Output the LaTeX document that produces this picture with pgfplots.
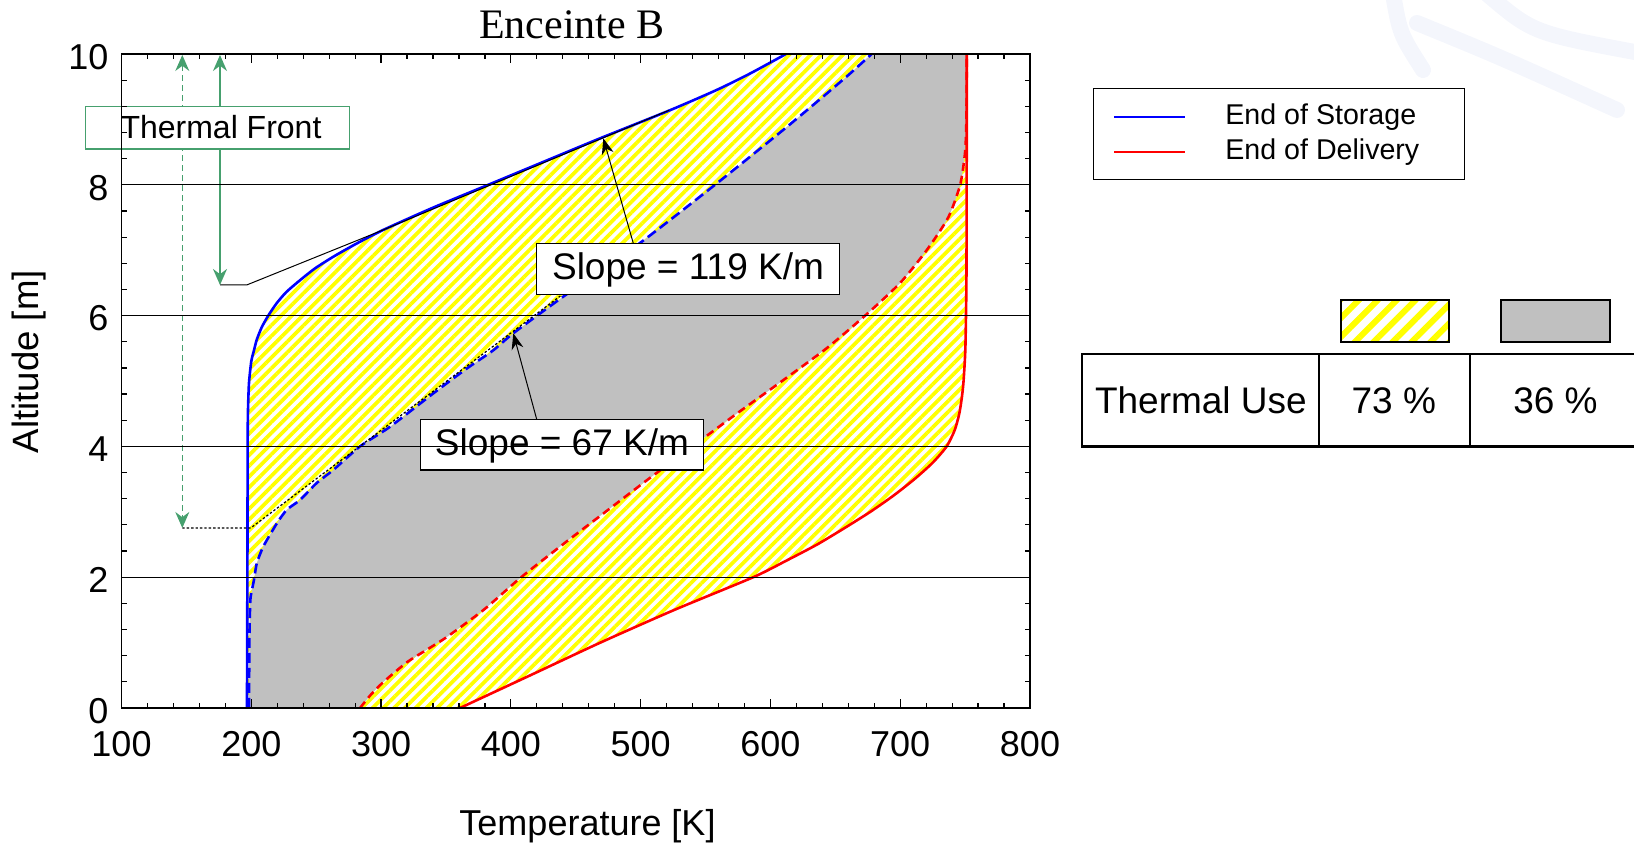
\documentclass[border=0pt]{standalone}
\usepackage{fontspec}
\setmainfont{Liberation Sans}
\newfontfamily\timesfont{Liberation Serif}
\usepackage{pgfplots}
\pgfplotsset{compat=1.18}
\usepackage{pgfplotstable}
\usepgfplotslibrary{fillbetween}
\usetikzlibrary{patterns.meta, arrows.meta}

\definecolor{tgreen}{RGB}{70,160,110}
\definecolor{tgray}{RGB}{192,192,192}
\definecolor{wm}{RGB}{244,246,252}

% End of Storage, case 1 (solid blue)
\pgfplotstableread{
T z
196.7 0
196.8 1
197.0 2
197.1 3
197.2 4
197.4 4.5
198.2 4.96
200.0 5.3
202.1 5.47
204.2 5.63
208.0 5.82
213.1 6.0
219.6 6.19
227.0 6.36
237.5 6.54
249.0 6.72
263.2 6.90
281.0 7.1
301.7 7.31
340.0 7.65
382.6 8.0
425.0 8.35
468.7 8.71
522.6 9.14
558.6 9.45
584.2 9.70
612.0 10.0
}\storageA
% End of Storage, case 2 (dashed blue)
\pgfplotstableread{
T z
198.3 0
198.5 1.0
199.0 1.5
199.5 1.70
202.1 1.96
204.2 2.21
209.3 2.47
219.6 2.82
227.3 3.03
237.5 3.18
250.4 3.44
263.2 3.64
283.8 4.0
306.9 4.30
340.2 4.81
366.0 5.19
386.5 5.47
401.9 5.73
440.4 6.29
499.5 7.11
558.6 8.02
609.9 8.84
640.7 9.35
661.3 9.70
678.0 10.0
}\storageB
% End of Delivery, case 1 (solid red)
\pgfplotstableread{
T z
360.8 0
415.0 0.5
469.0 1.0
526.0 1.5
586.8 2.0
612.0 2.25
636.0 2.5
657.0 2.75
677.0 3.0
695.0 3.25
711.0 3.5
725.0 3.75
735.8 4.0
742.0 4.25
745.5 4.5
747.5 4.75
748.8 5.0
750.2 5.5
751.0 6.5
751.2 8
751.3 10
}\deliveryA
% End of Delivery, case 2 (dashed red)
\pgfplotstableread{
T z
283.8 0
292.0 0.2
302.0 0.4
320.0 0.7
336.0 0.9
351.0 1.09
379.0 1.5
408.0 2.0
440.0 2.5
473.0 3.0
506.0 3.5
540.0 4.0
574.0 4.5
609.0 5.0
643.3 5.5
673.0 6.0
700.0 6.5
720.4 7.0
737.0 7.5
746.2 8.0
750.0 8.5
751.0 9.0
751.3 10
}\deliveryB

\begin{document}
\begin{tikzpicture}
% faint watermark
\draw[wm, line width=8pt, line cap=round] (696.5pt,425pt) .. controls (700pt,405pt) .. (711.5pt,387pt);
\draw[wm, line width=8pt, line cap=round] (708.5pt,410.5pt) .. controls (750pt,393.5pt) .. (808.5pt,367pt);
\draw[wm, line width=8pt, line cap=round] (743.5pt,425pt) .. controls (766.5pt,405.5pt) .. (820pt,395.5pt);

\begin{axis}[
  at={(60.75pt,68pt)}, anchor=south west, scale only axis,
  width=454.25pt, height=327pt,
  xmin=100, xmax=800, ymin=0, ymax=10,
  xtick={100,200,...,800}, ytick={0,2,...,10},
  minor x tick num=4, minor y tick num=4,
  xtick pos=both, ytick pos=both, tick align=inside,
  major tick length=4.5pt, minor tick length=2.5pt,
  every tick/.style={black, line width=0.6pt},
  axis line style={black, line width=0.8pt},
  ymajorgrids, grid style={black, line width=0.5pt},
  axis on top,
  /pgf/number format/assume math mode=true,
  tick label style={font=\fontsize{18}{21}\selectfont},
  xticklabel style={anchor=center, yshift=-17.85pt},
  yticklabel style={anchor=east, xshift=-3pt, yshift=-1.5pt},
]
\addplot[draw=none, smooth, tension=0.4, name path=SA] table[x=T, y=z] {\storageA};
\addplot[draw=none, smooth, tension=0.4, name path=SB] table[x=T, y=z] {\storageB};
\addplot[draw=none, smooth, tension=0.4, name path=DA] table[x=T, y=z] {\deliveryA};
\addplot[draw=none, smooth, tension=0.4, name path=DB] table[x=T, y=z] {\deliveryB};
\addplot[draw=none, pattern={Lines[angle=45, distance=3.8pt, line width=1.85pt]}, pattern color=yellow] fill between[of=SA and DA];
\addplot[draw=none, fill=tgray] fill between[of=SB and DB];
\addplot[blue, line width=1.3pt, smooth, tension=0.4] table[x=T, y=z] {\storageA};
\addplot[red, line width=1.3pt, smooth, tension=0.4] table[x=T, y=z] {\deliveryA};
\addplot[blue, line width=1.3pt, smooth, tension=0.4, dash pattern=on 5pt off 2.5pt] table[x=T, y=z] {\storageB};
\addplot[red, line width=1.3pt, smooth, tension=0.4, dash pattern=on 4pt off 2.5pt] table[x=T, y=z] {\deliveryB};
\end{axis}

% title and axis labels
\node[anchor=base, inner sep=0pt, font=\timesfont\fontsize{21}{24}\selectfont] at (286pt,402.85pt) {Enceinte B};
\node[anchor=base, inner sep=0pt, font=\fontsize{18}{21}\selectfont] at (293.75pt,4.1pt) {Temperature [K]};
\node[rotate=90, inner sep=0pt, font=\fontsize{18.3}{21}\selectfont] at (14.5pt,241.15pt) {Altitude [m]};

% tangent lines and leaders
\draw[black, line width=0.5pt] (110pt,279.5pt) -- (123.35pt,279.5pt) -- (191.64pt,307.04pt) -- (334.6pt,366.9pt);
\draw[black, line width=0.6pt, dash pattern=on 1.2pt off 1pt] (91.15pt,158pt) -- (125.35pt,158pt) -- (280.15pt,274pt);

% thermal front arrows
\draw[tgreen, line width=0.8pt, {Stealth[length=8pt,width=7pt]}-{Stealth[length=8pt,width=7pt]}] (110pt,394.5pt) -- (110pt,279.5pt);
\draw[tgreen, line width=0.6pt, dash pattern=on 3pt off 2pt, {Stealth[length=8pt,width=7pt]}-{Stealth[length=8pt,width=7pt]}] (91.15pt,394.5pt) -- (91.15pt,158pt);

% slope arrows
\draw[black, line width=0.5pt, -{Stealth[length=8pt,width=6pt]}] (316.65pt,300.35pt) -- (301.65pt,352.85pt);
\draw[black, line width=0.5pt, -{Stealth[length=8pt,width=6pt]}] (268.35pt,212.35pt) -- (256.65pt,255.35pt);

% annotation boxes
\draw[black, line width=0.6pt, fill=white] (268.35pt,274.85pt) rectangle (419.65pt,300.35pt);
\node[anchor=base, inner sep=0pt, font=\fontsize{18.5}{21}\selectfont] at (344pt,282pt) {Slope = 119 K/m};
\draw[black, line width=0.6pt, fill=white] (210.35pt,187pt) rectangle (351.65pt,212.35pt);
\node[anchor=base, inner sep=0pt, font=\fontsize{18.5}{21}\selectfont] at (281pt,194pt) {Slope = 67 K/m};
\draw[tgreen, line width=0.8pt, fill=white] (42.75pt,347.35pt) rectangle (174.65pt,368.65pt);
\node[anchor=base, inner sep=0pt, font=\fontsize{16}{18}\selectfont] at (110.5pt,352.85pt) {Thermal Front};

% legend
\draw[black, line width=0.6pt] (546.8pt,332.35pt) rectangle (732.25pt,377.85pt);
\draw[blue, line width=1pt] (557pt,363.65pt) -- (592.5pt,363.65pt);
\draw[red, line width=1pt] (557pt,346pt) -- (592.5pt,346pt);
\node[anchor=base west, inner sep=0pt, font=\fontsize{14.3}{16}\selectfont] at (612.5pt,359.5pt) {End of Storage};
\node[anchor=base west, inner sep=0pt, font=\fontsize{14.3}{16}\selectfont] at (612.5pt,342.3pt) {End of Delivery};

% thermal use table
\draw[black, line width=1pt, pattern={Lines[angle=45, distance=6.7pt, line width=3pt]}, pattern color=yellow] (670.25pt,251pt) rectangle (724.25pt,272pt);
\draw[black, line width=1pt, fill=tgray] (750.3pt,251pt) rectangle (804.9pt,272pt);
\draw[black, line width=1.2pt] (540.85pt,198.65pt) rectangle (840pt,244.85pt);
\draw[black, line width=1.2pt] (659.45pt,198.65pt) -- (659.45pt,244.85pt);
\draw[black, line width=1.2pt] (734.85pt,198.65pt) -- (734.85pt,244.85pt);
\node[anchor=base, inner sep=0pt, font=\fontsize{18.5}{21}\selectfont] at (600.45pt,215pt) {Thermal Use};
\node[anchor=base, inner sep=0pt, font=\fontsize{18.5}{21}\selectfont] at (696.9pt,215pt) {73 \%};
\node[anchor=base, inner sep=0pt, font=\fontsize{18.5}{21}\selectfont] at (777.75pt,215pt) {36 \%};

\pgfresetboundingbox
\path[use as bounding box] (0,0) rectangle (817pt,422pt);
\end{tikzpicture}
\end{document}
